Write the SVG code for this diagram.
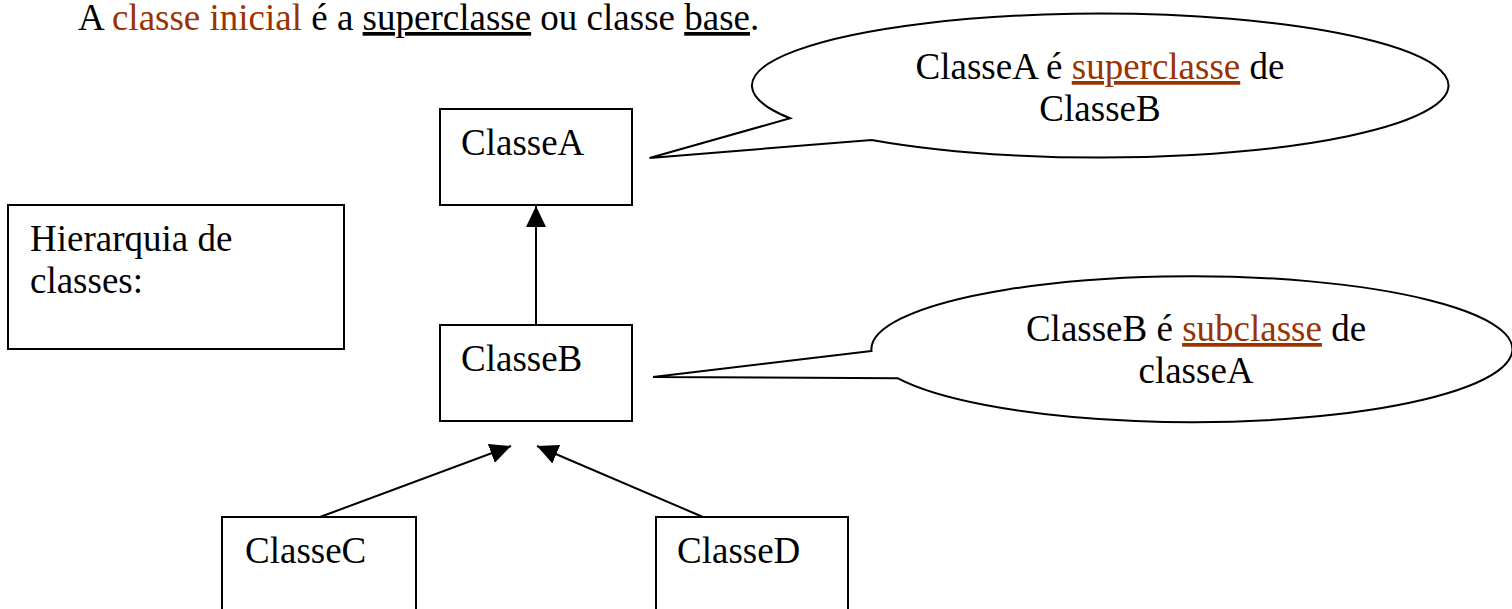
<svg xmlns="http://www.w3.org/2000/svg" width="1512" height="609" viewBox="0 0 1512 609">
  <defs>
    <style>
      text { font-family: "Liberation Serif", "Times New Roman", serif; font-size: 37px; fill: #000; }
      .hl { fill: #993300; }
      .u { text-decoration: underline; }
      .box { fill: #fff; stroke: #000; stroke-width: 2; }
      .bubble { fill: #fff; stroke: #000; stroke-width: 2; stroke-linejoin: miter; }
      .edge { fill: none; stroke: #000; stroke-width: 2; }
    </style>
    <marker id="tri" markerUnits="userSpaceOnUse" markerWidth="22" markerHeight="22" refX="21" refY="10" orient="auto">
      <path d="M0,0 L21,10 L0,20 Z" fill="#000"/>
    </marker>
  </defs>
  <rect width="1512" height="609" fill="#fff"/>

  <!-- heading line -->
  <text id="heading" x="78" y="30">A <tspan class="hl">classe inicial</tspan> é a <tspan class="u">superclasse</tspan> ou classe <tspan class="u">base</tspan>.</text>

  <!-- label box -->
  <g id="hierarquia">
    <rect class="box" x="8" y="205" width="336" height="144"/>
    <text x="30" y="251">Hierarquia de</text>
    <text x="30" y="293">classes:</text>
  </g>

  <!-- class boxes -->
  <g id="classeA">
    <rect class="box" x="440" y="109" width="192" height="96"/>
    <text x="461" y="155">ClasseA</text>
  </g>
  <g id="classeB">
    <rect class="box" x="440" y="325" width="192" height="96"/>
    <text x="461" y="371">ClasseB</text>
  </g>
  <g id="classeC">
    <rect class="box" x="222" y="517" width="194" height="110"/>
    <text x="245" y="563">ClasseC</text>
  </g>
  <g id="classeD">
    <rect class="box" x="656" y="517" width="192" height="110"/>
    <text x="677" y="563">ClasseD</text>
  </g>

  <!-- inheritance arrows -->
  <g id="connectors">
    <line class="edge" x1="536" y1="325" x2="536" y2="206" marker-end="url(#tri)"/>
    <line class="edge" x1="320" y1="517" x2="511" y2="446" marker-end="url(#tri)"/>
    <line class="edge" x1="703" y1="517" x2="537" y2="446" marker-end="url(#tri)"/>
  </g>

  <!-- callout bubbles -->
  <g id="callout-super">
    <path class="bubble" d="M790,118.3 L649.5,158 L871.7,139.9 A348.3 72 0 1 0 790,118.3 Z"/>
    <text x="1100" y="79" text-anchor="middle">ClasseA é <tspan class="hl u">superclasse</tspan> de</text>
    <text x="1100" y="121" text-anchor="middle">ClasseB</text>
  </g>
  <g id="callout-sub">
    <path class="bubble" d="M871.5,351 L653,377 L898,378.3 A320.5 73 0 1 0 871.5,351 Z"/>
    <text x="1196" y="341" text-anchor="middle">ClasseB é <tspan class="hl u">subclasse</tspan> de</text>
    <text x="1196" y="383" text-anchor="middle">classeA</text>
  </g>
</svg>
